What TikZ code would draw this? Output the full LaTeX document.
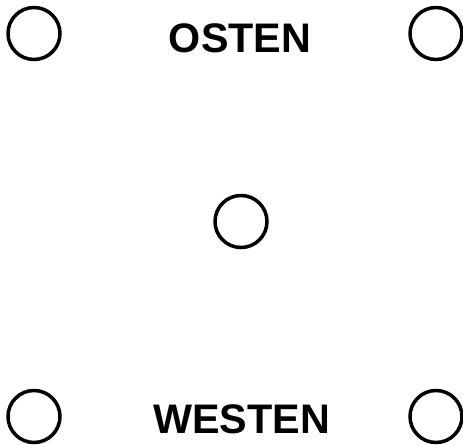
\documentclass[tikz,border=0pt]{standalone}
\usepackage{fontspec}
\setmainfont{Liberation Sans}
\begin{document}
\begin{tikzpicture}[line join=round, line cap=round,
		ring/.style={circle, draw, line width=2pt, minimum size=1.04cm, inner sep=0pt},
		label/.style={anchor=base, inner sep=0pt, font=\fontsize{23.5}{28}\selectfont\bfseries}]
		\def\xl{0.68} \def\xr{8.72}
		\def\yt{8.21} \def\yb{0.55}
		\useasboundingbox (0,0) rectangle (9.26,8.88);
		%\draw[color=gray!50,dashed] (0,0) grid (9.26,8.88);
		\node[ring] (nw) at (\xl,\yt) {};
		\node[ring] (ne) at (\xr,\yt) {};
		\node[ring] (mid) at (4.82,4.45) {};
		\node[ring] (sw) at (\xl,\yb) {};
		\node[ring] (se) at (\xr,\yb) {};
		\node[label] (osten) at (4.80,7.84) {OSTEN};
		\node[label] (westen) at (4.83,0.22) {WESTEN};
	\end{tikzpicture}
\end{document}
